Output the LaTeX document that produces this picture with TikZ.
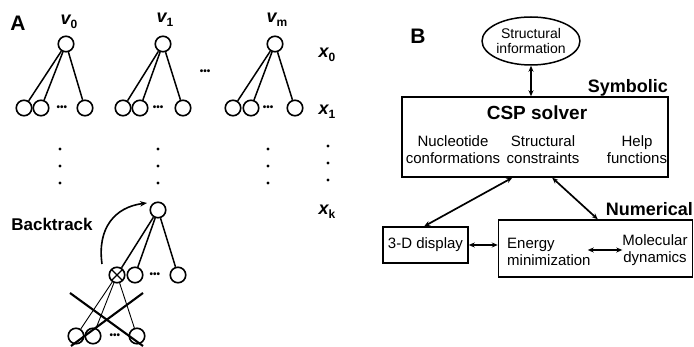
\documentclass[tikz,border=0pt]{standalone}
\usepackage{fontspec}
\setmainfont{Liberation Sans}
\usetikzlibrary{arrows.meta,shapes.geometric}
\newcommand{\fs}[1]{\fontsize{#1}{#1}\selectfont}
\newcommand{\vlab}[2]{{\fs{18}\bfseries\itshape #1}\raisebox{-4pt}{\fs{12}\bfseries #2}}
\tikzset{
  vtx/.style={circle,draw,line width=1.6pt,minimum size=15.5pt,inner sep=0pt},
  edge/.style={line width=1.5pt},
  thinedge/.style={line width=0.9pt},
  crossline/.style={line width=2.1pt},
  ell/.style={ellipse,draw,line width=1.5pt,minimum width=78pt,minimum height=48pt,inner sep=0pt,align=center,font=\fontsize{14}{15}\selectfont},
  box/.style={draw,line width=1.5pt,inner sep=0pt},
  txt/.style={align=center,font=\fontsize{15}{16}\selectfont,inner sep=0pt},
  btxt/.style={font=\fs{18}\bfseries,inner sep=0pt},
  dbl/.style={{Stealth[length=6pt,width=5pt]}-{Stealth[length=6pt,width=5pt]},line width=1.7pt},
  dotsn/.style={inner sep=0pt,font=\fs{10}\bfseries}
}
\begin{document}
\begin{tikzpicture}[x=1pt,y=-1pt]
\useasboundingbox (0,0) rectangle (694,347);
% ---------- Panel A ----------
\node[btxt,font=\fs{21}\bfseries] (A) at (18,23) {A};
% tree 1
\node[vtx] (r1) at (66,44) {};
\node[vtx] (a1) at (24,108) {};
\node[vtx] (a2) at (41,108) {};
\node[vtx] (a3) at (85,108) {};
\node[dotsn] (ad) at (62,108) {•••};
\draw[edge] (r1) -- (a1); \draw[edge] (r1) -- (a2); \draw[edge] (r1) -- (a3);
% tree 2
\node[vtx] (r2) at (163,44) {};
\node[vtx] (b1) at (123,108) {};
\node[vtx] (b2) at (140,108) {};
\node[vtx] (b3) at (183,108) {};
\node[dotsn] (bd) at (158,108) {•••};
\draw[edge] (r2) -- (b1); \draw[edge] (r2) -- (b2); \draw[edge] (r2) -- (b3);
% tree 3
\node[vtx] (r3) at (275,44) {};
\node[vtx] (c1) at (233,108) {};
\node[vtx] (c2) at (251,108) {};
\node[vtx] (c3) at (295,108) {};
\node[dotsn] (cd) at (268,108) {•••};
\draw[edge] (r3) -- (c1); \draw[edge] (r3) -- (c2); \draw[edge] (r3) -- (c3);
\node[dotsn] (md) at (205,72) {•••};
% labels
\node[inner sep=0pt] (v0) at (69,22) {\vlab{v}{0}};
\node[inner sep=0pt] (v1) at (165,20) {\vlab{v}{1}};
\node[inner sep=0pt] (vm) at (277,20) {\vlab{v}{m}};
\node[inner sep=0pt] (x0) at (327,55) {\vlab{x}{0}};
\node[inner sep=0pt] (x1) at (327,112) {\vlab{x}{1}};
\node[inner sep=0pt] (xk) at (327,212) {\vlab{x}{k}};
% vertical dots
\foreach \xx in {60,158,268} { \foreach \yy in {149,166,183} { \fill (\xx,\yy) circle (1.6pt); } }
\foreach \yy in {146,163,180} { \fill (328,\yy) circle (1.6pt); }
% backtrack tree
\node[vtx] (R) at (158,210) {};
\node[vtx,path picture={\draw[line width=1.1pt] (path picture bounding box.north west) -- (path picture bounding box.south east) (path picture bounding box.north east) -- (path picture bounding box.south west);}] (K) at (117,275) {};
\node[vtx] (L2) at (135,275) {};
\node[vtx] (L3) at (178,275) {};
\node[dotsn] (Ld) at (155,275) {•••};
\draw[edge] (R) -- (K); \draw[edge] (R) -- (L2); \draw[edge] (R) -- (L3);
\node[vtx] (S1) at (76,336) {};
\node[vtx] (S2) at (93,336) {};
\node[vtx] (S3) at (137,336) {};
\node[dotsn] (Sd) at (115,336) {•••};
\draw[thinedge] (K) -- (S1); \draw[thinedge] (K) -- (S2); \draw[thinedge] (K) -- (S3);
\coordinate (X1a) at (70,293); \coordinate (X1b) at (143,346);
\coordinate (X2a) at (143,293); \coordinate (X2b) at (71,346);
\draw[crossline] (X1a) -- (X1b);
\draw[crossline] (X2a) -- (X2b);
\node[inner sep=0pt,font=\fs{17}\bfseries] (bt) at (52,224) {Backtrack};
\coordinate (bt1) at (102,264);
\coordinate (bt2) at (147,203);
\draw[line width=1.6pt,-{Stealth[length=7pt,width=5.5pt]}] (bt1) .. controls (97,228) and (115,207) .. (bt2);
% ---------- Panel B ----------
\node[btxt,font=\fs{21}\bfseries] (B) at (418,36) {B};
\node[ell] (E) at (531,41) {Structural\\information};
\node[box,minimum width=266pt,minimum height=80pt] (CSP) at (535,137) {};
\node[btxt,anchor=east] (sym) at (668,88) {Symbolic};
\node[btxt,font=\fs{19}\bfseries] (csl) at (537,113) {CSP solver};
\node[txt] (nc) at (453,150) {Nucleotide\\[1pt]conformations};
\node[txt] (sc) at (543,150) {Structural\\[1pt]constraints};
\node[txt] (hf) at (637,150) {Help\\[1pt]functions};
\draw[dbl] (E.south) -- (E.south |- CSP.north);
\node[box,minimum width=85pt,minimum height=36pt,txt] (D) at (425.5,245) {3-D display};
\node[box,minimum width=194pt,minimum height=57pt] (N) at (595.5,248.5) {};
\node[btxt,anchor=east] (num) at (693,209) {Numerical};
\node[txt,align=left,anchor=west] (em) at (507,252) {Energy\\[1pt]minimization};
\node[txt] (mdn) at (655,250) {Molecular\\[1pt]dynamics};
\draw[dbl] ([xshift=111pt]CSP.south west) -- ([xshift=42pt]D.north west);
\draw[dbl] ([xshift=151pt]CSP.south west) -- ([xshift=100pt]N.north west);
\draw[dbl] (D.east) -- (D.east -| N.west);
\draw[dbl] ([xshift=-3pt]em.east |- mdn.center) -- (mdn.west);
\end{tikzpicture}
\end{document}
